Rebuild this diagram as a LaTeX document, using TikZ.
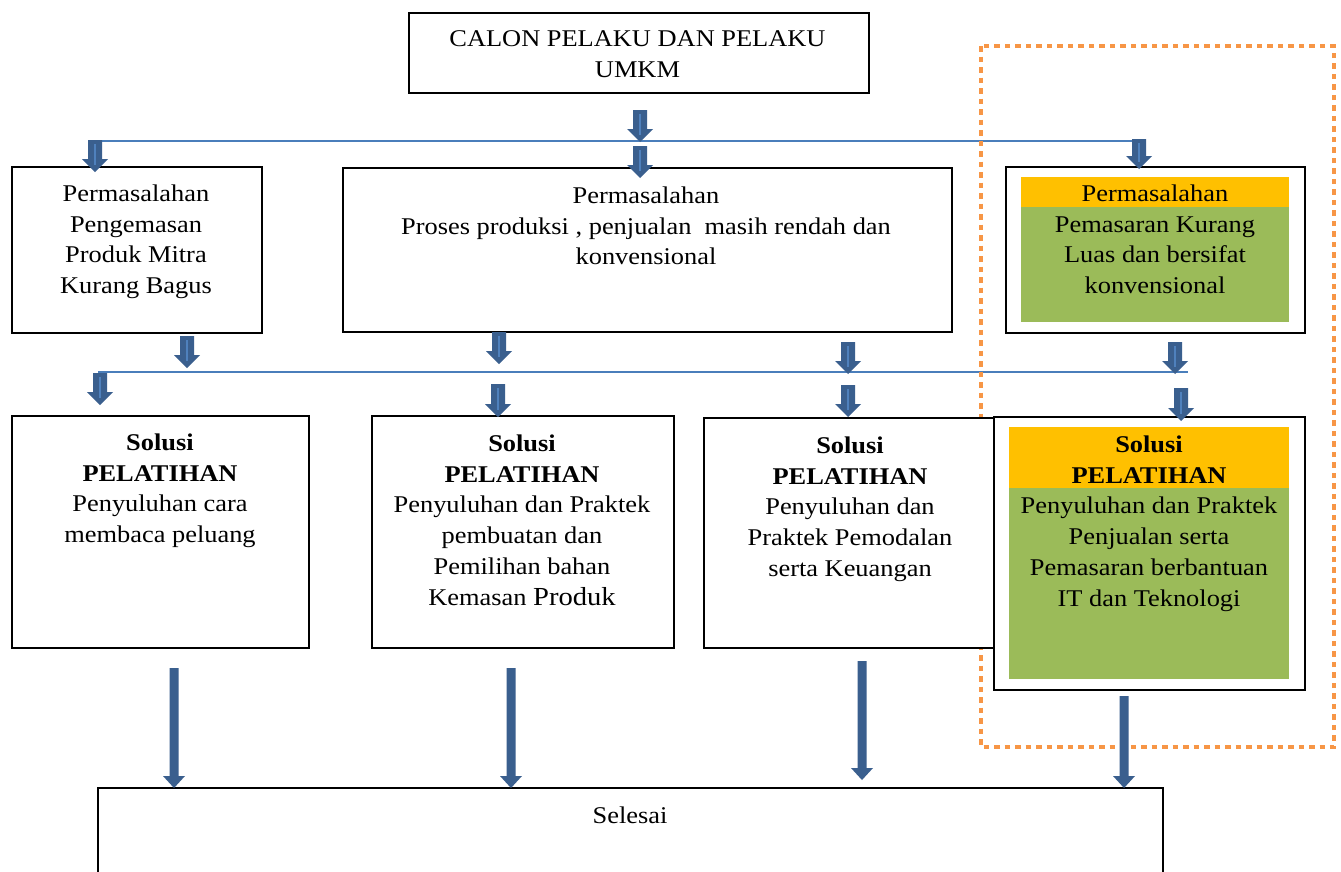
\documentclass[tikz,border=0pt]{standalone}
\usepackage{fontspec}
\setmainfont{Liberation Serif}[FakeStretch=1.1]
\definecolor{arrdark}{HTML}{3A5F8E}
\definecolor{arrlight}{HTML}{4F81BD}
\definecolor{hlinec}{HTML}{4A7EBB}
\definecolor{dotor}{HTML}{F79646}
\definecolor{hdrorange}{HTML}{FFC000}
\definecolor{grn}{HTML}{9BBB59}
\newcommand\fst{\rule{0pt}{20pt}}
% block arrow: x, ytop, ybot
\newcommand\blkarrow[3]{%
  \fill[arrdark] (#1-7,#2) -- (#1+7,#2) -- (#1+7,#3-13) -- (#1+13,#3-13) -- (#1,#3) -- (#1-13,#3-13) -- (#1-7,#3-13) -- cycle;
  \draw[arrlight, line width=2.2pt] (#1,#2+4) -- (#1,#3-7);}
% tall thin arrow: x, ytop, ybot
\newcommand\tallarr[3]{%
  \fill[arrdark] (#1-4.5,#2) -- (#1+4.5,#2) -- (#1+4.5,#3-12) -- (#1+11,#3-12) -- (#1,#3) -- (#1-11,#3-12) -- (#1-4.5,#3-12) -- cycle;}
\begin{document}
\begin{tikzpicture}[x=1pt,y=-1pt,
  boxst/.style={draw=black, line width=2pt, fill=white, inner sep=0pt, anchor=north west},
  fillst/.style={draw=none, inner sep=0pt, anchor=north west},
  txt/.style={anchor=north, inner sep=0pt, align=center, font=\fontsize{24}{30.8}\selectfont},
  hln/.style={draw=hlinec, line width=2pt},
  dotbox/.style={draw=dotor, line width=4pt, dash pattern=on 5.5pt off 5pt}]
\useasboundingbox (0,0) rectangle (1341,871);
\fill[white] (0,0) rectangle (1341,871);

% horizontal distribution lines
\coordinate (h1a) at (88,141);
\coordinate (h1b) at (1144,141);
\coordinate (h2a) at (98,372);
\coordinate (h2b) at (1188,372);
\draw[hln] (h1a) -- (h1b);
\draw[hln] (h2a) -- (h2b);

% orange dotted frame
\coordinate (dA) at (981,46);
\coordinate (dB) at (1334,747);
\draw[dotbox] (dA) rectangle (dB);

% boxes
\node[boxst, minimum width=460, minimum height=80] (top) at (408,12) {};
\node[boxst, minimum width=250, minimum height=166] (L1) at (11,166) {};
\node[boxst, minimum width=609, minimum height=164] (M1) at (342,167) {};
\node[boxst, minimum width=299, minimum height=166] (R1) at (1005,166) {};
\node[fillst, fill=hdrorange, minimum width=268, minimum height=30] (R1h) at (1021,177) {};
\node[fillst, fill=grn, minimum width=268, minimum height=115] (R1g) at (1021,207) {};
\node[boxst, minimum width=297, minimum height=232] (S1) at (11,415) {};
\node[boxst, minimum width=302, minimum height=232] (S2) at (371,415) {};
\node[boxst, minimum width=290, minimum height=230] (S3) at (703,417) {};
\node[boxst, minimum width=311, minimum height=273] (S4) at (993,416) {};
\node[fillst, fill=hdrorange, minimum width=280, minimum height=61] (S4h) at (1009,427) {};
\node[fillst, fill=grn, minimum width=280, minimum height=191] (S4g) at (1009,488) {};
\node[boxst, minimum width=1065, minimum height=130] (Sel) at (97,787) {};

% texts
\node[txt] (topt) at (637.5,26) {\fst CALON PELAKU DAN PELAKU\\UMKM};
\node[txt] (L1t) at (136,181) {\fst Permasalahan\\Pengemasan\\Produk Mitra\\Kurang Bagus};
\node[txt] (M1t) at (646,183) {\fst Permasalahan\\Proses produksi , penjualan~~masih rendah dan\\konvensional};
\node[txt] (R1t) at (1155,181) {\fst Permasalahan\\Pemasaran Kurang\\Luas dan bersifat\\konvensional};
\node[txt] (S1t) at (160,430) {\fst\textbf{Solusi}\\\textbf{PELATIHAN}\\Penyuluhan cara\\membaca peluang};
\node[txt] (S2t) at (522,431) {\fst\textbf{Solusi}\\\textbf{PELATIHAN}\\Penyuluhan dan Praktek\\pembuatan dan\\Pemilihan bahan\\Kemasan {\fontsize{26}{30.8}\selectfont Produk}};
\node[txt] (S3t) at (850,433) {\fst\textbf{Solusi}\\\textbf{PELATIHAN}\\Penyuluhan dan\\Praktek Pemodalan\\serta Keuangan};
\node[txt] (S4t) at (1149,432) {\fst\textbf{Solusi}\\\textbf{PELATIHAN}\\Penyuluhan dan Praktek\\Penjualan serta\\Pemasaran berbantuan\\IT dan Teknologi};
\node[txt] (Selt) at (630,803) {\fst Selesai};

% block arrows
\blkarrow{640}{110}{142}
\blkarrow{95}{140}{172}
\blkarrow{640}{146}{178}
\blkarrow{1139}{139}{169}
\blkarrow{187}{336}{368}
\blkarrow{499}{332}{364}
\blkarrow{848}{342}{374}
\blkarrow{1175}{342}{374}
\blkarrow{100}{373}{405}
\blkarrow{498}{384}{417}
\blkarrow{848}{385}{417}
\blkarrow{1181}{388}{421}

% tall arrows to Selesai
\tallarr{174}{668}{788}
\tallarr{511}{668}{788}
\tallarr{862}{661}{780}
\tallarr{1124}{696}{788}
\end{tikzpicture}
\end{document}
